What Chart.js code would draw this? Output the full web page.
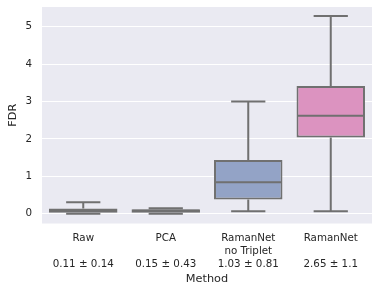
<!DOCTYPE html>
<html>
<head>
<meta charset="utf-8">
<script src="https://cdn.jsdelivr.net/npm/chart.js@4.4.1/dist/chart.umd.min.js"></script>
<style>
  html, body { margin: 0; padding: 0; background: #fff; }
  #wrap { width: 382px; height: 293px; }
</style>
</head>
<body>
<div id="wrap"><canvas id="fdr-chart"></canvas></div>
<script>
// Catégories (nom + moyenne ± écart-type sous le nom)
const methods = ["Raw", "PCA", "RamanNet no Triplet", "RamanNet"];
const tickLabels = [
  ["Raw", "", "0.11 ± 0.14"],
  ["PCA", "", "0.15 ± 0.43"],
  ["RamanNet", "no Triplet", "1.03 ± 0.81"],
  ["RamanNet", "", "2.65 ± 1.1"]
];

// Statistiques des boîtes
const whiskerLow  = [0.00, 0.00, 0.07, 0.07];
const q1          = [0.03, 0.03, 0.38, 2.04];
const median      = [0.08, 0.08, 0.84, 2.62];
const q3          = [0.14, 0.12, 1.44, 3.42];
const whiskerHigh = [0.31, 0.15, 3.00, 5.29];

const yTicks = [0, 1, 2, 3, 4, 5];

const boxColors = ["#71b7a1", "#e99575", "#93a3c6", "#dc93c0"];
const lineColor = "#707070";
const textColor = "#262626";
const fontFamily = "'DejaVu Sans', sans-serif";

// Fond gris seaborn
const bgPlugin = {
  id: "bgPlugin",
  beforeDraw(chart) {
    const { ctx, chartArea: a } = chart;
    ctx.save();
    ctx.fillStyle = "#eaeaf2";
    ctx.fillRect(a.left, a.top, a.right - a.left, a.bottom - a.top);
    ctx.restore();
  }
};

// Moustaches, capuchons et médianes
const whiskerPlugin = {
  id: "whiskerPlugin",
  afterDatasetsDraw(chart) {
    const { ctx, scales } = chart;
    const meta = chart.getDatasetMeta(0);
    ctx.save();
    ctx.strokeStyle = lineColor;
    ctx.lineWidth = 2;
    meta.data.forEach((bar, i) => {
      const x = bar.x;
      const half = bar.width / 2;
      const yLow = scales.y.getPixelForValue(whiskerLow[i]);
      const yQ1 = scales.y.getPixelForValue(q1[i]);
      const yMed = scales.y.getPixelForValue(median[i]);
      const yQ3 = scales.y.getPixelForValue(q3[i]);
      const yHigh = scales.y.getPixelForValue(whiskerHigh[i]);
      ctx.beginPath();
      ctx.moveTo(x, yQ3); ctx.lineTo(x, yHigh);
      ctx.moveTo(x, yQ1); ctx.lineTo(x, yLow);
      ctx.moveTo(x - half / 2, yHigh); ctx.lineTo(x + half / 2, yHigh);
      ctx.moveTo(x - half / 2, yLow); ctx.lineTo(x + half / 2, yLow);
      ctx.moveTo(x - half + 1, yMed); ctx.lineTo(x + half - 1, yMed);
      ctx.stroke();
    });
    ctx.restore();
  }
};

const chart = new Chart(document.getElementById("fdr-chart"), {
  type: "bar",
  data: {
    labels: tickLabels,
    datasets: [{
      label: "FDR",
      data: methods.map((m, i) => [q1[i], q3[i]]),
      backgroundColor: boxColors,
      borderColor: lineColor,
      borderWidth: 2,
      borderSkipped: false,
      barPercentage: 0.83,
      categoryPercentage: 1.0
    }]
  },
  options: {
    responsive: true,
    maintainAspectRatio: false,
    animation: false,
    layout: { padding: { top: 7, right: 10, left: 0, bottom: 0 } },
    plugins: {
      legend: { display: false },
      tooltip: { enabled: false }
    },
    scales: {
      x: {
        grid: { display: false, drawTicks: false },
        border: { display: false },
        ticks: {
          color: textColor,
          padding: 8,
          maxRotation: 0,
          autoSkip: false,
          font: { family: fontFamily, size: 10.3, lineHeight: "13px" }
        },
        title: {
          display: true,
          text: "Method",
          color: textColor,
          padding: { top: 0, bottom: 7 },
          font: { family: fontFamily, size: 11.3 }
        },
        afterFit(scale) {
          scale.height = 69.5;
          scale.paddingLeft = 0;
          scale.paddingRight = 0;
        }
      },
      y: {
        min: -0.26,
        max: 5.53,
        afterBuildTicks(scale) { scale.ticks = yTicks.map(v => ({ value: v })); },
        grid: { color: "#ffffff", lineWidth: 1, drawTicks: false },
        border: { display: false },
        ticks: {
          color: textColor,
          padding: 10,
          font: { family: fontFamily, size: 10.3 }
        },
        title: {
          display: true,
          text: "FDR",
          color: textColor,
          padding: { top: 6, bottom: 0 },
          font: { family: fontFamily, size: 11.3 }
        },
        afterFit(scale) {
          scale.width = 42;
          scale.paddingTop = 0;
          scale.paddingBottom = 0;
        }
      }
    }
  },
  plugins: [bgPlugin, whiskerPlugin]
});
</script>
</body>
</html>
